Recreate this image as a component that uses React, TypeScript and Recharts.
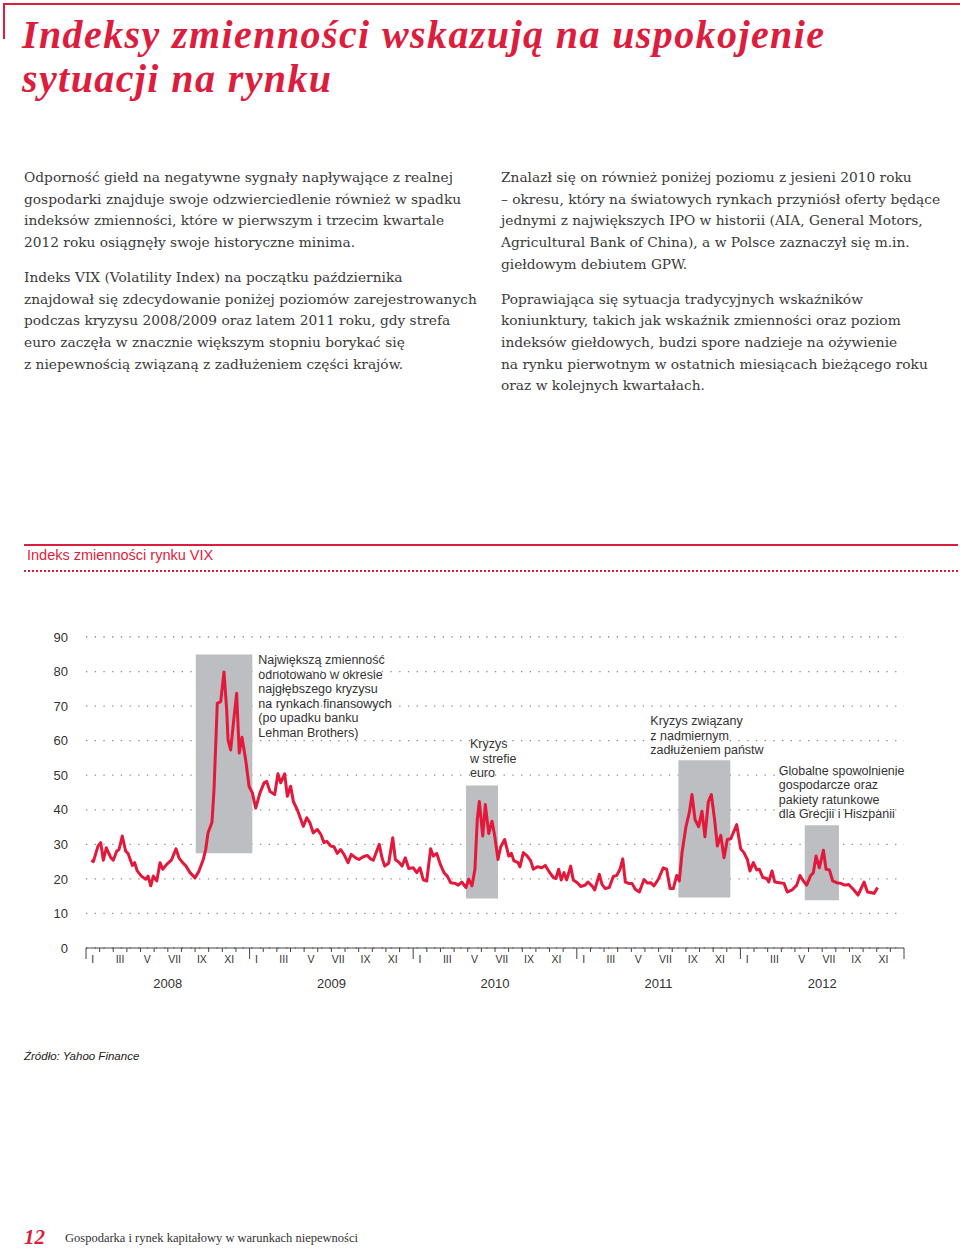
import React from 'react';
import { ComposedChart, Line, XAxis, YAxis, CartesianGrid, ReferenceArea } from 'recharts';

// ---------- DATA ----------
// time in months since 1 Jan 2008 (weekly readings)
const monthOffsets = [
  0.39, 0.54, 0.88, 1.08, 1.27, 1.49, 1.81, 2.0, 2.25, 2.42, 2.66, 2.91, 3.08, 3.4, 3.57, 3.76, 4.06, 4.38, 4.55, 4.75,
  4.94, 5.19, 5.43, 5.63, 5.92, 6.26, 6.6, 6.82, 7.09, 7.34, 7.63, 8.0, 8.29, 8.6, 8.78, 8.95, 9.24, 9.39, 9.63, 9.88,
  10.12, 10.32, 10.42, 10.61, 10.86, 11.05, 11.24, 11.44, 11.71, 11.96, 12.2, 12.45, 12.76, 13.06, 13.25, 13.5, 13.84,
  14.08, 14.28, 14.57, 14.77, 15.01, 15.21, 15.5, 15.94, 16.19, 16.43, 16.67, 16.97, 17.22, 17.46, 17.66, 17.95, 18.19,
  18.43, 18.68, 18.92, 19.22, 19.46, 19.78, 20.02, 20.34, 20.63, 20.88, 21.07, 21.32, 21.51, 21.71, 21.91, 22.2, 22.5,
  22.69, 22.98, 23.18, 23.42, 23.67, 24.01, 24.26, 24.5, 24.74, 24.99, 25.28, 25.48, 25.72, 26.02, 26.26, 26.5, 26.75,
  27.07, 27.31, 27.56, 27.87, 28.07, 28.31, 28.53, 28.7, 28.85, 29.1, 29.29, 29.54, 29.78, 29.98, 30.22, 30.42, 30.71,
  31.01, 31.2, 31.39, 31.69, 31.83, 32.08, 32.37, 32.62, 32.81, 33.11, 33.43, 33.69, 33.98, 34.28, 34.47, 34.67, 34.86,
  35.06, 35.26, 35.55, 35.74, 36.04, 36.29, 36.62, 36.82, 37.11, 37.31, 37.65, 37.85, 38.09, 38.38, 38.68, 38.93, 39.17,
  39.37, 39.56, 39.81, 40.05, 40.29, 40.59, 40.93, 41.17, 41.42, 41.66, 41.98, 42.34, 42.59, 42.84, 43.08, 43.33, 43.52,
  43.72, 44.01, 44.25, 44.45, 44.67, 44.94, 45.18, 45.4, 45.65, 45.87, 46.12, 46.31, 46.56, 46.8, 47.04, 47.29, 47.73,
  48.02, 48.26, 48.51, 48.7, 48.95, 49.2, 49.39, 49.64, 49.93, 50.08, 50.32, 50.52, 50.86, 51.2, 51.44, 51.79, 52.13,
  52.37, 52.62, 52.86, 53.16, 53.35, 53.55, 53.79, 54.09, 54.28, 54.53, 54.77, 55.06, 55.36, 55.65, 55.94, 56.28, 56.63,
  56.83, 57.07, 57.32, 57.66, 57.81, 58.06,
];
const vixValues = [
  25.4, 25.0, 29.5, 30.5, 25.4, 29.0, 26.2, 25.4, 28.0, 28.5, 32.4, 28.0, 27.4, 23.9, 24.7, 22.3, 20.8, 19.9, 20.8, 18.0,
  20.8, 19.4, 24.7, 22.8, 24.2, 25.4, 28.7, 26.1, 24.7, 23.7, 21.8, 20.3, 22.3, 25.6, 28.5, 33.3, 36.4, 45.8, 70.8, 71.3,
  79.9, 68.9, 60.2, 57.3, 66.9, 73.7, 56.4, 61.0, 54.5, 46.8, 44.9, 40.5, 44.9, 47.8, 48.2, 45.3, 44.4,
  50.4, 47.8, 50.4, 43.9, 46.8, 42.4, 40.0, 35.2, 37.7, 36.2, 33.3, 34.3, 32.9, 30.5, 30.9, 29.5, 29.3,
  27.4, 28.5, 27.1, 24.7, 27.1, 26.1, 25.6, 26.4, 26.8, 25.8, 25.4, 28.0, 30.0, 26.1, 23.7, 24.5, 31.9,
  25.6, 24.7, 23.7, 26.1, 23.0, 23.2, 21.8, 23.2, 19.7, 19.4, 28.7, 26.6, 27.4, 23.9, 21.8, 20.8, 18.9,
  18.7, 18.2, 19.1, 17.5, 19.9, 18.0, 22.8, 37.2, 42.4, 32.4, 41.5, 33.1, 36.7, 32.4, 25.6, 29.3, 31.4,
  26.6, 27.4, 25.2, 24.7, 23.5, 27.6, 26.6, 25.2, 22.8, 23.5, 23.2, 23.9, 22.0, 20.4, 20.1, 22.8, 19.7,
  21.8, 19.7, 23.7, 19.7, 18.9, 17.8, 18.2, 19.1, 18.0, 16.8, 21.3, 18.4, 17.2, 17.5, 20.7, 21.0, 22.8,
  25.8, 19.1, 18.7, 18.7, 17.0, 16.2, 19.8, 18.8, 18.9, 18.0, 19.9, 23.2, 22.8, 17.2, 17.2, 21.0, 19.4,
  27.6, 35.2, 39.1, 44.4, 37.2, 35.1, 39.6, 32.2, 42.4, 44.4, 36.7, 29.5, 32.6, 26.1, 31.4, 31.6, 35.7,
  28.7, 27.6, 25.6, 22.3, 24.7, 22.6, 22.8, 20.4, 20.1, 19.1, 22.3, 19.1, 18.9, 18.7, 16.2, 16.8, 18.2,
  21.0, 19.4, 18.2, 21.0, 21.8, 26.6, 23.2, 28.3, 22.8, 22.6, 19.4, 18.9, 18.7, 18.2, 18.4, 17.0, 15.3,
  17.0, 19.1, 16.2, 16.0, 15.8, 17.5,
];

const romanMonths = ['I', 'II', 'III', 'IV', 'V', 'VI', 'VII', 'VIII', 'IX', 'X', 'XI', 'XII'];
const years = ['2008', '2009', '2010', '2011', '2012'];
const yTicks = [0, 10, 20, 30, 40, 50, 60, 70, 80, 90];

// crisis periods (months since Jan 2008) and shaded value ranges
const crisisStart = [8.05, 27.87, 43.45, 52.72];
const crisisEnd = [12.2, 30.22, 47.26, 55.23];
const crisisLow = [27.4, 14.3, 14.6, 13.8];
const crisisHigh = [84.9, 47.0, 54.3, 35.5];
const crisisNotes = [
  ['Największą zmienność', 'odnotowano w okresie', 'najgłębszego kryzysu', 'na rynkach finansowych', '(po upadku banku', 'Lehman Brothers)'],
  ['Kryzys', 'w strefie', 'euro'],
  ['Kryzys związany', 'z nadmiernym', 'zadłużeniem państw'],
  ['Globalne spowolnienie', 'gospodarcze oraz', 'pakiety ratunkowe', 'dla Grecjii i Hiszpanii'],
];

const titleLines = ['Indeksy zmienności wskazują na uspokojenie', 'sytuacji na rynku'];

const leftParagraphs = [
  [
    'Odporność giełd na negatywne sygnały napływające z realnej',
    'gospodarki znajduje swoje odzwierciedlenie również w spadku',
    'indeksów zmienności, które w pierwszym i trzecim kwartale',
    '2012 roku osiągnęły swoje historyczne minima.',
  ],
  [
    'Indeks VIX (Volatility Index) na początku października',
    'znajdował się zdecydowanie poniżej poziomów zarejestrowanych',
    'podczas kryzysu 2008/2009 oraz latem 2011 roku, gdy strefa',
    'euro zaczęła w znacznie większym stopniu borykać się',
    'z niepewnością związaną z zadłużeniem części krajów.',
  ],
];
const rightParagraphs = [
  [
    'Znalazł się on również poniżej poziomu z jesieni 2010 roku',
    '– okresu, który na światowych rynkach przyniósł oferty będące',
    'jednymi z największych IPO w historii (AIA, General Motors,',
    'Agricultural Bank of China), a w Polsce zaznaczył się m.in.',
    'giełdowym debiutem GPW.',
  ],
  [
    'Poprawiająca się sytuacja tradycyjnych wskaźników',
    'koniunktury, takich jak wskaźnik zmienności oraz poziom',
    'indeksów giełdowych, budzi spore nadzieje na ożywienie',
    'na rynku pierwotnym w ostatnich miesiącach bieżącego roku',
    'oraz w kolejnych kwartałach.',
  ],
];

// ---------- STYLE ----------
const RED = '#dd1d3d';
const LINE_RED = '#e3183a';
const TEXT = '#3a3a3a';
const SANS = '"Liberation Sans", Arial, Helvetica, sans-serif';
const SERIF = '"DejaVu Serif", Georgia, serif';
const TITLE_SERIF = '"Liberation Serif", "DejaVu Serif", serif';

const data = monthOffsets.map((m, i) => ({ m, v: vixValues[i] }));

const xTicks: number[] = [];
for (let i = 0; i <= years.length * 12; i++) xTicks.push(i);
for (let i = 0; i < years.length * 12; i += 2) xTicks.push(i + 0.5);
xTicks.sort((a, b) => a - b);

const XTick = (props: any) => {
  const { x, y, payload } = props;
  const v: number = payload.value;
  if (Number.isInteger(v)) {
    const isYear = v % 12 === 0;
    return (
      <g>
        <line x1={x} x2={x} y1={y} y2={y + (isYear ? 11 : 4)} stroke="#444" strokeWidth={1} />
        {v % 12 === 6 && (
          <text x={x} y={y + 40} textAnchor="middle" fontSize={13} fill="#333" fontFamily={SANS}>
            {years[Math.floor(v / 12)]}
          </text>
        )}
      </g>
    );
  }
  const idx = Math.floor(v);
  return (
    <text x={x} y={y + 15} textAnchor="middle" fontSize={10.5} fill="#333" fontFamily={SANS}>
      {romanMonths[idx % 12]}
    </text>
  );
};

// note placement: 'right' of box or 'above' it, with x offset
const notePlacement = [
  { side: 'right', dx: 6, dy: 9.5 },
  { side: 'above', dx: 4, dy: -8.5 },
  { side: 'above', dx: -28, dy: -6 },
  { side: 'above', dx: -26, dy: -7 },
];
const NOTE_LH = 14.5;

const makeNote = (i: number) => (props: any) => {
  const vb = props.viewBox || {};
  const lines = crisisNotes[i];
  const p = notePlacement[i];
  const x = p.side === 'right' ? vb.x + vb.width + p.dx : vb.x + p.dx;
  const firstY = p.side === 'right' ? vb.y + p.dy : vb.y + p.dy - (lines.length - 1) * NOTE_LH;
  return (
    <text x={x} y={firstY} fontSize={12.5} fill="#333" fontFamily={SANS}>
      {lines.map((l, k) => (
        <tspan key={k} x={x} y={firstY + k * NOTE_LH}>
          {l}
        </tspan>
      ))}
    </text>
  );
};

const Paragraphs = ({ paras, left, top }: { paras: string[][]; left: number; top: number }) => (
  <div style={{ position: 'absolute', left, top, fontFamily: SERIF, fontSize: 13.75, color: TEXT, lineHeight: '21.7px' }}>
    {paras.map((p, i) => (
      <div key={i} style={{ marginBottom: 13 }}>
        {p.map((l, k) => (
          <div key={k} style={{ whiteSpace: 'nowrap' }}>
            {l}
          </div>
        ))}
      </div>
    ))}
  </div>
);

export default function App() {
  return (
    <div style={{ position: 'relative', width: 960, height: 1248, background: '#fff', overflow: 'hidden' }}>
      <style>{`body{margin:0}`}</style>
      {/* page frame */}
      <div style={{ position: 'absolute', left: 3, top: 3, width: 957, height: 2, background: RED }} />
      <div style={{ position: 'absolute', left: 3, top: 3, width: 2, height: 36, background: RED }} />
      {/* title */}
      <div
        style={{
          position: 'absolute',
          left: 22,
          top: 13,
          fontFamily: TITLE_SERIF,
          fontWeight: 'bold',
          fontStyle: 'italic',
          fontSize: 40,
          letterSpacing: 1.4,
          lineHeight: '44.4px',
          color: RED,
          whiteSpace: 'nowrap',
        }}
      >
        {titleLines.map((t, i) => (
          <div key={i}>{t}</div>
        ))}
      </div>

      <Paragraphs paras={leftParagraphs} left={24} top={167} />
      <Paragraphs paras={rightParagraphs} left={501} top={167} />

      {/* chart header */}
      <div style={{ position: 'absolute', left: 24, top: 544, width: 934, height: 2, background: RED }} />
      <div
        style={{ position: 'absolute', left: 27, top: 547, fontFamily: SANS, fontSize: 14.5, color: RED, whiteSpace: 'nowrap' }}
      >
        Indeks zmienności rynku VIX
      </div>
      <div style={{ position: 'absolute', left: 24, top: 570, width: 934, borderTop: `2px dotted ${RED}` }} />

      {/* chart */}
      <div style={{ position: 'absolute', left: 0, top: 620 }}>
        <ComposedChart width={960} height={378} data={data} margin={{ top: 17, right: 56, bottom: 0, left: 0 }}>
          <CartesianGrid vertical={false} stroke="#8a8a8a" strokeWidth={1.3} strokeDasharray="1.3 7.4" />
          <XAxis
            dataKey="m"
            type="number"
            domain={[0, 60]}
            ticks={xTicks}
            interval={0}
            tickSize={0}
            tickMargin={0}
            height={50}
            axisLine={{ stroke: '#444', strokeWidth: 1 }}
            tickLine={false}
            tick={<XTick />}
            allowDataOverflow
          />
          <YAxis
            type="number"
            domain={[0, 90]}
            ticks={yTicks}
            interval={0}
            width={86}
            tickSize={0}
            tickMargin={18}
            axisLine={false}
            tickLine={false}
            tick={{ fontSize: 13, fill: '#333', fontFamily: SANS }}
          />
          {crisisStart.map((s, i) => (
            <ReferenceArea
              key={i}
              x1={s}
              x2={crisisEnd[i]}
              y1={crisisLow[i]}
              y2={crisisHigh[i]}
              fill="#bdbec1"
              fillOpacity={1}
              stroke="none"
              ifOverflow="visible"
              label={makeNote(i)}
            />
          ))}
          <Line
            type="linear"
            dataKey="v"
            stroke={LINE_RED}
            strokeWidth={3}
            dot={false}
            activeDot={false}
            isAnimationActive={false}
            strokeLinejoin="round"
          />
        </ComposedChart>
      </div>

      {/* source */}
      <div
        style={{ position: 'absolute', left: 24, top: 1050, fontFamily: SANS, fontStyle: 'italic', fontSize: 11.5, color: '#222' }}
      >
        Źródło: Yahoo Finance
      </div>

      {/* footer */}
      <div
        style={{
          position: 'absolute',
          left: 24,
          top: 1225,
          fontFamily: TITLE_SERIF,
          fontWeight: 'bold',
          fontStyle: 'italic',
          fontSize: 21,
          color: RED,
        }}
      >
        12
      </div>
      <div style={{ position: 'absolute', left: 65, top: 1231, fontFamily: TITLE_SERIF, fontSize: 12.5, color: '#333', whiteSpace: 'nowrap' }}>
        Gospodarka i rynek kapitałowy w warunkach niepewności
      </div>
    </div>
  );
}
